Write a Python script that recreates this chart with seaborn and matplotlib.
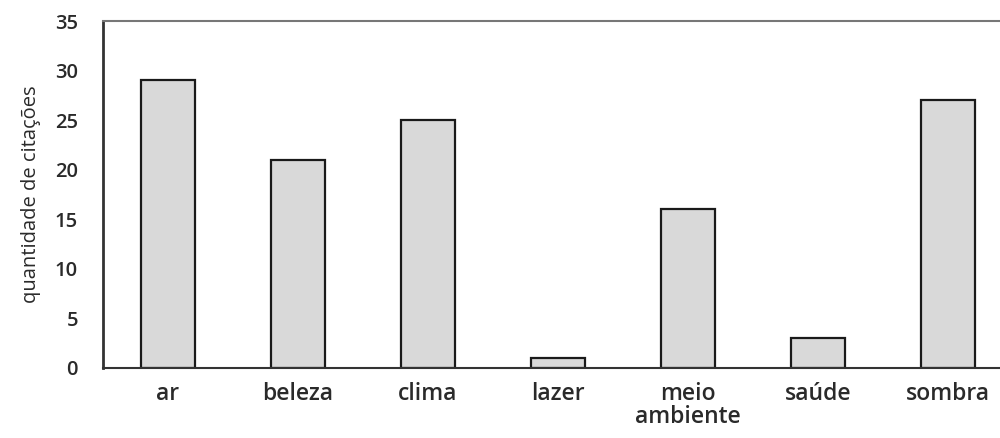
import matplotlib.pyplot as plt
import seaborn as sns
import pandas as pd

categorias = ["ar", "beleza", "clima", "lazer", "meio\nambiente", "saúde", "sombra"]
citacoes = [29, 21, 25, 1, 16, 3, 27]
yticks = [0, 5, 10, 15, 20, 25, 30, 35]

df = pd.DataFrame({"categoria": categorias, "citacoes": citacoes})

sns.set_style("white")
plt.rcParams["font.family"] = ["Open Sans", "DejaVu Sans"]

fig = plt.figure(figsize=(10, 4.38), dpi=100)
ax = fig.add_axes([0.103, 0.160, 0.91, 0.792])

sns.barplot(data=df, x="categoria", y="citacoes", color="#d9d9d9",
            saturation=1, edgecolor="#1a1a1a", linewidth=1.6, width=0.42, ax=ax)

ax.set_xlim(-0.5, 6.5)
ax.set_ylim(0, 35)
ax.set_yticks(yticks)
ax.set_yticklabels([str(t) for t in yticks])
ax.set_xlabel("")
ax.set_ylabel("quantidade de citações", fontsize=14.5, color="#2a2a2a", labelpad=10)

ax.tick_params(axis="y", direction="in", length=9, width=1.2, pad=18,
               labelsize=14.5, labelcolor="#2a2a2a", color="#333333")
ax.tick_params(axis="x", length=0, pad=10, labelsize=16.5, labelcolor="#2a2a2a")
for lab in ax.get_xticklabels() + ax.get_yticklabels():
    lab.set_fontweight(600)
for lab in ax.get_xticklabels():
    lab.set_linespacing(0.95)

ax.spines["left"].set_color("#333333")
ax.spines["left"].set_linewidth(2)
ax.spines["bottom"].set_color("#333333")
ax.spines["bottom"].set_linewidth(1.5)
ax.spines["top"].set_color("#777777")
ax.spines["top"].set_linewidth(1.5)
ax.spines["right"].set_visible(False)

fig.savefig("out.png", dpi=100)
